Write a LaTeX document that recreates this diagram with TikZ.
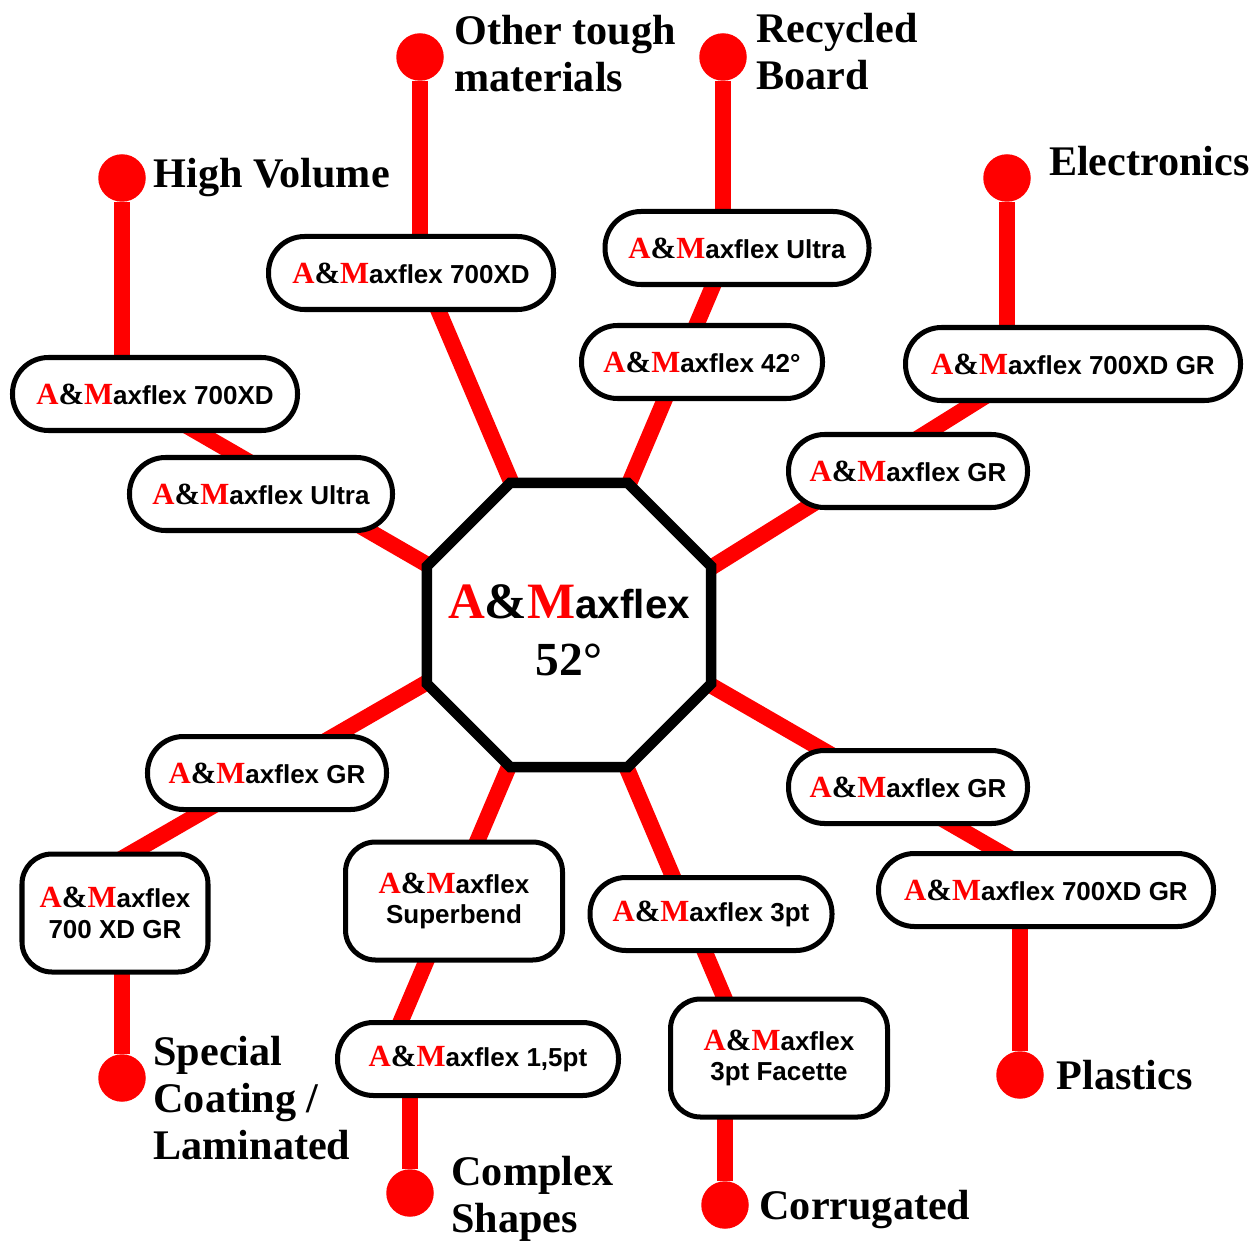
\documentclass[tikz,border=0pt]{standalone}
\usepackage{fontspec}
\setmainfont{Liberation Serif}
\setsansfont{Liberation Sans}
\usepackage{xcolor}
\definecolor{amred}{RGB}{255,0,0}
\usetikzlibrary{positioning,shapes.geometric,backgrounds}
\newcommand{\AMsign}[1]{{\fontsize{#1}{#1}\selectfont\rmfamily\textcolor{amred}{A}\&\textcolor{amred}{M}}}

\begin{document}
\begin{tikzpicture}[
  prod/.style={draw, line width=2.85pt, fill=white, rounded corners=0.72cm, minimum height=1.46cm, inner sep=0pt, align=center, font=\fontsize{14.8}{17.5}\selectfont\sffamily\bfseries},
  prodtall/.style={prod, rounded corners=0.6cm, minimum height=2.36cm},
  spoke/.style={amred, line width=9.1pt},
  enddot/.style={circle, fill=amred, minimum size=0.95cm, inner sep=0pt},
  usage/.style={inner sep=0pt, align=left, font=\fontsize{24}{26.7}\selectfont\rmfamily\bfseries}
]
  \useasboundingbox (0,0) rectangle (25.18,24.84);
  % Centre
  \node[regular polygon, regular polygon sides=8, draw, line width=6pt, fill=white, minimum size=6.15cm, inner sep=0pt, outer sep=0pt] (hub) at (11.38,12.34) {};
  \node[align=center, font=\fontsize{23}{32.4}\selectfont\bfseries, yshift=-0.1cm] (hubTxt) at (hub.center) {\AMsign{29}{\sffamily axflex}\\{\fontsize{27}{32.4}\selectfont\rmfamily 52°}};
  % High Volume
  \node[prod, minimum width=5.70cm] (hvOut) at (3.10,16.96) {\AMsign{17.5}axflex 700XD};
  \node[prod, minimum width=5.26cm] (hvIn) at (5.22,14.96) {\AMsign{17.5}axflex Ultra};
  \node[enddot] (hvDot) at (2.44,21.28) {};
  \node[usage, right=4pt of hvDot] (hvTxt) {High Volume};
  % Other tough materials
  \node[prod, minimum width=5.70cm] (otOut) at (8.22,19.38) {\AMsign{17.5}axflex 700XD};
  \node[enddot] (otDot) at (8.40,23.70) {};
  \node[usage, right=5.7pt of otDot, yshift=0.06cm] (otTxt) {Other tough\\materials};
  % Recycled Board
  \node[prod, minimum width=4.82cm] (rbIn) at (14.04,17.60) {\AMsign{17.5}axflex 42°};
  \node[prod, minimum width=5.28cm] (rbOut) at (14.74,19.88) {\AMsign{17.5}axflex Ultra};
  \node[enddot] (rbDot) at (14.46,23.70) {};
  \node[usage, right=5pt of rbDot, yshift=0.1cm] (rbTxt) {Recycled\\Board};
  % Electronics
  \node[prod, minimum width=4.78cm] (elIn) at (18.16,15.42) {\AMsign{17.5}axflex GR};
  \node[prod, minimum width=6.70cm] (elOut) at (21.46,17.56) {\AMsign{17.5}axflex 700XD GR};
  \node[enddot] (elDot) at (20.14,21.28) {};
  \node[usage, right=10pt of elDot, yshift=0.34cm] (elTxt) {Electronics};
  % Plastics
  \node[prod, minimum width=4.78cm] (plIn) at (18.16,9.10) {\AMsign{17.5}axflex GR};
  \node[prod, minimum width=6.70cm] (plOut) at (20.92,7.04) {\AMsign{17.5}axflex 700XD GR};
  \node[enddot] (plDot) at (20.40,3.34) {};
  \node[usage, right=7pt of plDot] (plTxt) {Plastics};
  % Corrugated
  \node[prod, minimum width=4.84cm] (coIn) at (14.22,6.56) {\AMsign{17.5}axflex 3pt};
  \node[prodtall, minimum width=4.34cm] (coOut) at (15.58,3.68) {\AMsign{17.5}axflex\\3pt Facette};
  \node[enddot] (coDot) at (14.50,0.74) {};
  \node[usage, right=5.7pt of coDot, yshift=-0.1cm] (coTxt) {Corrugated};
  % Complex Shapes
  \node[prodtall, minimum width=4.34cm] (csIn) at (9.08,6.82) {\AMsign{17.5}axflex\\Superbend};
  \node[prod, minimum width=5.62cm] (csOut) at (9.56,3.66) {\AMsign{17.5}axflex 1,5pt};
  \node[enddot] (csDot) at (8.20,0.98) {};
  \node[usage, right=9.7pt of csDot, yshift=-0.12cm] (csTxt) {Complex\\Shapes};
  % Special Coating / Laminated
  \node[prod, minimum width=4.78cm] (scIn) at (5.34,9.38) {\AMsign{17.5}axflex GR};
  \node[prodtall, minimum width=3.72cm] (scOut) at (2.30,6.58) {\AMsign{17.5}axflex\\700 XD GR};
  \node[enddot] (scDot) at (2.44,3.28) {};
  \node[usage, right=4pt of scDot, yshift=-0.4cm] (scTxt) {Special\\Coating /\\Laminated};
  % Red lines behind
  \begin{scope}[on background layer]
    \path (hub.157.5) ++(150:6.0) coordinate (hvEnd);
    \path (hub.112.5) ++(113:4.4) coordinate (otEnd);
    \path (hub.67.5) ++(67:4.8) coordinate (rbEnd);
    \path (hub.22.5) ++(32:7.6) coordinate (elEnd);
    \path (hub.337.5) ++(-30:8.2) coordinate (plEnd);
    \path (hub.292.5) ++(-67:6.3) coordinate (coEnd);
    \path (hub.247.5) ++(247:6.3) coordinate (csEnd);
    \path (hub.202.5) ++(210:8.0) coordinate (scEnd);
    \draw[spoke] (hub.157.5) -- (hvEnd);
    \draw[spoke] (hub.112.5) -- (otEnd);
    \draw[spoke] (hub.67.5) -- (rbEnd);
    \draw[spoke] (hub.22.5) -- (elEnd);
    \draw[spoke] (hub.337.5) -- (plEnd);
    \draw[spoke] (hub.292.5) -- (coEnd);
    \draw[spoke] (hub.247.5) -- (csEnd);
    \draw[spoke] (hub.202.5) -- (scEnd);
    \draw[spoke] (hvDot) -- (hvDot |- hvOut.center);
    \draw[spoke] (otDot) -- (otDot |- otOut.center);
    \draw[spoke] (rbDot) -- (rbDot |- rbOut.center);
    \draw[spoke] (elDot) -- (elDot |- elOut.center);
    \draw[spoke] (plDot) -- (plDot |- plOut.center);
    \draw[spoke] (coDot) -- (coDot |- coOut.center);
    \draw[spoke] (csDot) -- (csDot |- csOut.center);
    \draw[spoke] (scDot) -- (scDot |- scOut.center);
  \end{scope}
\end{tikzpicture}
\end{document}
